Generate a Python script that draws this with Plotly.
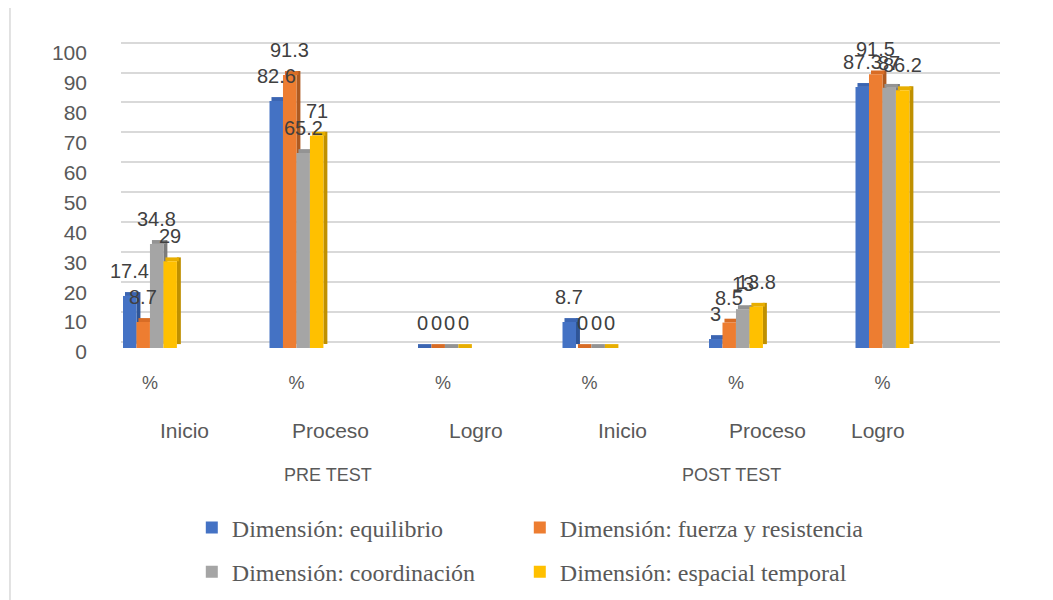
import plotly.graph_objects as go

# data
categories = ["Inicio", "Proceso", "Logro", "Inicio", "Proceso", "Logro"]
unit_labels = ["%", "%", "%", "%", "%", "%"]
groups = ["PRE TEST", "POST TEST"]
group_centers = [1, 4]  # middle category of each test
series_names = [
    "Dimensión: equilibrio",
    "Dimensión: fuerza y resistencia",
    "Dimensión: coordinación",
    "Dimensión: espacial temporal",
]
equilibrio = [17.4, 82.6, 0, 8.7, 3, 87.3]
fuerza = [8.7, 91.3, 0, 0, 8.5, 91.5]
coordinacion = [34.8, 65.2, 0, 0, 13, 87]
espacial = [29, 71, 0, 0, 13.8, 86.2]
y_ticks = [0, 10, 20, 30, 40, 50, 60, 70, 80, 90, 100]

values = [equilibrio, fuerza, coordinacion, espacial]
colors = ["#4472C4", "#ED7D31", "#A5A5A5", "#FFC000"]
top_colors = ["#3B65B2", "#D86C25", "#939393", "#E8AE00"]
side_colors = ["#2F5597", "#AE5A21", "#7B7B7B", "#BF9000"]

x = list(range(len(categories)))
bw = 0.092      # bar width (category units)
depth = 0.027   # fake 3d side face width
lift = 1.3      # fake 3d top face height (value units)
label_font = dict(family="Liberation Sans, Arial", size=20, color="#404040")
cat_font = dict(family="Liberation Sans, Arial", size=21, color="#595959")
group_font = dict(family="Liberation Sans, Arial", size=18, color="#595959")
legend_font = dict(family="Liberation Serif, Times New Roman, serif", size=24, color="#595959")

fig = go.Figure()

# empty trace so the back-wall grid subplot exists
fig.add_trace(go.Scatter(x=[], y=[], xaxis="x", yaxis="y", showlegend=False))

for k, (name, vals) in enumerate(zip(series_names, values)):
    off = (k - 2) * bw
    # side face, lifted a little towards the back
    fig.add_trace(go.Bar(
        x=x, y=vals, base=[lift] * len(vals), width=depth, offset=off + bw,
        marker=dict(color=side_colors[k], line_width=0),
        showlegend=False, hoverinfo="skip", xaxis="x2", yaxis="y2",
    ))
    # top face
    fig.add_trace(go.Bar(
        x=x, y=[lift] * len(vals), base=vals, width=bw, offset=off + depth / 2,
        marker=dict(color=top_colors[k], line_width=0),
        showlegend=False, hoverinfo="skip", xaxis="x2", yaxis="y2",
    ))
    # front face
    fig.add_trace(go.Bar(
        x=x, y=vals, width=bw, offset=off, name=name,
        marker=dict(color=colors[k], line_width=0),
        legend="legend" if k < 2 else "legend2",
        legendwidth=283 if k % 2 == 0 else 330,
        xaxis="x2", yaxis="y2",
    ))
    for i, v in enumerate(vals):
        fig.add_annotation(
            x=x[i] + off + bw / 2, y=v, xref="x2", yref="y2",
            text=f"{v:g}", showarrow=False, yanchor="bottom", yshift=12,
            font=label_font,
        )

# category row and test row under the "%" ticks
cat_shift = [35, 34, 33, 33, 32, -4]
for i, c in enumerate(categories):
    fig.add_annotation(
        x=x[i], y=-0.259, xref="x2", yref="paper", text=c, showarrow=False,
        xshift=cat_shift[i], yanchor="middle", font=cat_font,
    )
for g, gc, sh in zip(groups, group_centers, [32, -4]):
    fig.add_annotation(
        x=gc, y=-0.4006, xref="x2", yref="paper", text=g, showarrow=False,
        xshift=sh, yanchor="middle", font=group_font,
    )

# thin chart border
fig.add_shape(type="rect", xref="paper", yref="paper",
              x0=-0.0525, x1=1.049, y0=-0.826, y1=1.079,
              line=dict(color="#D9D9D9", width=1.5), layer="below")

legend_common = dict(
    orientation="h", xanchor="left", yanchor="middle", x=0.1383,
    font=legend_font, bgcolor="rgba(0,0,0,0)",
)

fig.update_layout(
    width=1053, height=600,
    margin=dict(l=52, r=48, t=23, b=260, autoexpand=False),
    paper_bgcolor="white", plot_bgcolor="rgba(0,0,0,0)",
    barmode="overlay",
    xaxis=dict(domain=[0.064, 0.9864], range=[0, 1], visible=False, anchor="y"),
    yaxis=dict(domain=[0, 1], range=[-2.1, 103.9], tick0=0, dtick=10,
               showgrid=True, gridcolor="#D9D9D9", gridwidth=2,
               showticklabels=False, zeroline=False, anchor="x"),
    xaxis2=dict(domain=[0, 1], range=[-0.614, 5.891], tickvals=x, ticktext=unit_labels,
                showgrid=False, zeroline=False, showline=False, ticks="",
                anchor="y2", ticklabelstandoff=22,
                tickfont=dict(family="Liberation Sans, Arial", size=18, color="#595959")),
    yaxis2=dict(domain=[0, 1], range=[0, 106], tickvals=y_ticks,
                showgrid=False, zeroline=False, showline=False, ticks="",
                anchor="free", position=0.064, ticklabelstandoff=34, ticklabelshift=4,
                tickfont=dict(family="Liberation Sans, Arial", size=21, color="#595959")),
    legend=dict(y=-0.5678, **legend_common),
    legend2=dict(y=-0.7068, **legend_common),
)

fig.write_html("out.html")
